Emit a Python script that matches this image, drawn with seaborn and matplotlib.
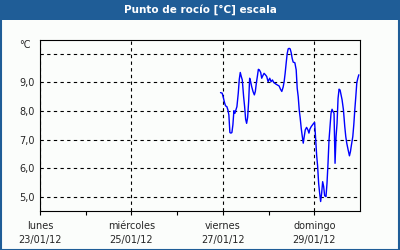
import numpy as np
import pandas as pd
import matplotlib
matplotlib.use("Agg")
import matplotlib.pyplot as plt
import seaborn as sns
from matplotlib.patches import Rectangle

# hours since 27/01/12 00:00
hours = [-1.23, -0.35, 0.35, 0.88, 1.41, 2.11, 2.64, 3.16, 3.69, 4.22, 4.75, 5.27, 5.80, 6.33,
         6.86, 7.38, 8.09, 8.62, 9.14, 9.67, 10.20, 10.90, 11.43, 11.96, 12.48, 13.01, 13.54,
         14.07, 14.59, 15.12, 15.82, 16.53, 17.05, 17.58, 18.11, 18.64, 19.16, 19.87, 20.39,
         20.92, 21.63, 22.33, 23.03, 23.74, 24.61, 25.32, 26.02, 26.72, 27.78, 28.48, 29.54,
         30.24, 30.94, 31.65, 32.17, 32.70, 33.23, 33.76, 34.28, 34.81, 35.34, 35.87, 36.39,
         36.92, 37.80, 38.50, 39.03, 39.56, 40.09, 40.61, 41.14, 41.67, 42.20, 42.72, 43.25,
         43.95, 44.66, 45.19, 45.71, 46.42, 47.12, 47.65, 48.17, 48.70, 49.23, 49.76, 50.28,
         50.81, 51.34, 51.87, 52.39, 52.92, 53.45, 54.15, 54.68, 55.21, 55.73, 56.26, 56.79,
         57.32, 57.84, 58.37, 58.90, 59.43, 59.95, 60.48, 61.01, 61.54, 62.06, 62.59, 63.30,
         64.00, 64.53, 65.05, 65.76, 66.46, 66.99, 67.51, 68.22, 68.74, 69.27, 69.80, 70.33,
         70.86, 71.38]
dew_point = [8.64, 8.62, 8.44, 8.29, 8.18, 8.15, 8.04, 7.86, 7.25, 7.23, 7.25, 7.52, 8.01, 7.92,
             8.04, 8.15, 8.62, 9.10, 9.34, 9.20, 9.08, 8.50, 8.15, 7.71, 7.57, 7.78, 8.33,
             9.14, 9.02, 8.85, 8.68, 8.56, 8.68, 8.97, 9.20, 9.45, 9.43, 9.34, 9.14,
             9.22, 9.31, 9.26, 9.20, 9.02, 9.14, 9.02, 9.08, 8.99, 8.94, 8.91, 8.87,
             8.76, 8.68, 8.83, 9.02, 9.31, 9.66, 9.99, 10.16, 10.18, 10.16, 10.03, 9.83,
             9.70, 9.68, 9.43, 8.79, 8.50, 8.04, 7.75, 7.40, 7.13, 6.88, 7.11, 7.34,
             7.43, 7.34, 7.23, 7.37, 7.46, 7.52, 7.57, 7.60, 7.05, 6.47, 6.07, 5.49,
             5.14, 4.85, 5.14, 5.54, 5.37, 5.05, 5.02, 5.49, 6.18, 6.99, 7.46, 7.92,
             8.06, 7.98, 7.92, 6.18, 7.11, 7.57, 8.44, 8.76, 8.73, 8.56, 8.39, 8.04,
             7.46, 7.11, 6.88, 6.65, 6.44, 6.59, 6.82, 7.11, 7.52, 8.04, 8.50, 8.99,
             9.14, 9.26]

day_labels = ["lunes\n23/01/12", "miércoles\n25/01/12", "viernes\n27/01/12", "domingo\n29/01/12"]
y_ticks = [5, 6, 7, 8, 9, 10]
y_labels = ["5,0", "6,0", "7,0", "8,0", "9,0", ""]
title = "Punto de rocío [°C] escala"
unit = "°C"

# days since 23/01/12
days = [4 + h / 24 for h in hours]
df = pd.DataFrame({"day": days, "value": dew_point})

sns.set_style("white")
plt.rcParams["font.family"] = ["DejaVu Sans"]

fig = plt.figure(figsize=(4, 2.5), dpi=100)
fig.patch.set_facecolor("#fbfdfb")
blue = "#1f5d97"

# title bar and border
fig.patches.append(Rectangle((0, 0.92), 1, 0.08, transform=fig.transFigure,
                             facecolor=blue, edgecolor="none", zorder=0))
fig.patches.append(Rectangle((0.0015, 0.002), 0.997, 0.996, transform=fig.transFigure,
                             facecolor="none", edgecolor=blue, linewidth=1.5, zorder=5))
fig.text(0.5, 0.96, title, color="white", ha="center", va="center",
         fontsize=7.5, fontweight="bold")

ax = fig.add_axes([0.1, 0.156, 0.8, 0.684])
ax.set_facecolor("#fbfdfb")
sns.lineplot(data=df, x="day", y="value", color="#0000ff", linewidth=1, ax=ax)

ax.set_xlim(0, 7)
ax.set_ylim(4.52, 10.47)
ax.set_xticks([0, 2, 4, 6])
ax.set_xticks([1, 3, 5], minor=True)
ax.set_xticklabels(day_labels, fontsize=7, linespacing=1.5)
ax.set_yticks(y_ticks)
ax.set_yticklabels(y_labels, fontsize=7)
ax.tick_params(axis="y", length=0, pad=4)
ax.tick_params(axis="x", which="both", length=3, width=0.8, direction="out", pad=4,
               bottom=True, color="black")
ax.set_xlabel("")
ax.set_ylabel("")
for s in ax.spines.values():
    s.set_color("black")
    s.set_linewidth(0.8)
ax.grid(True, axis="both", which="major", color="black", linestyle=(0, (3, 3)), linewidth=0.8)
ax.text(-0.03, 10.3, unit, transform=ax.get_yaxis_transform(), ha="right", va="center",
        fontsize=7)

fig.savefig("out.png", dpi=100, facecolor=fig.get_facecolor())
